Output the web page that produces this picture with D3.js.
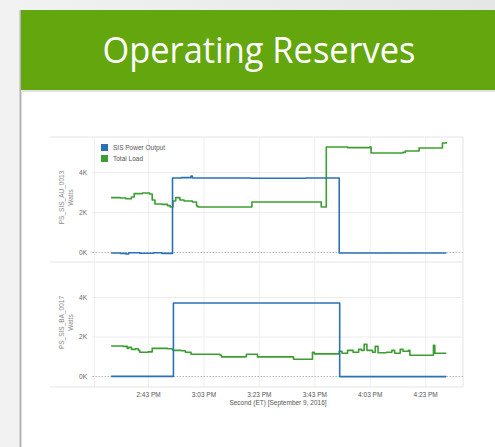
<!DOCTYPE html>
<html>
<head>
<meta charset="utf-8">
<script src="https://cdn.jsdelivr.net/npm/d3@7"></script>
<style>
  body { margin: 0; background: #ececec; }
  svg { display: block; font-family: "Liberation Sans", Arial, sans-serif; }
</style>
</head>
<body>
<script>
// Chart data (values in kW, times on September 9, 2016)
const seriesNames = ["SIS Power Output", "Total Load"];
const tickTimes = ["14:43", "15:03", "15:23", "15:43", "16:03", "16:23"];
const yTicks = [0, 2, 4];
const panelLabels = ["PS_SIS_AU_0013", "PS_SIS_BA_0017"];

const au13Power = [
  ["14:29:40", -0.05], ["14:33:00", -0.07], ["14:35:00", -0.1], ["14:36:00", -0.04],
  ["14:40:00", -0.06], ["14:45:00", -0.04], ["14:48:00", -0.07], ["14:51:50", 3.7],
  ["14:55:00", 3.72], ["14:58:30", 3.8], ["14:59:00", 3.7], ["15:20:00", 3.69],
  ["15:40:00", 3.7], ["15:52:00", -0.05], ["16:30:40", -0.05]
];
const au13Load = [
  ["14:29:40", 2.72], ["14:33:00", 2.7], ["14:35:00", 2.66], ["14:37:00", 2.75],
  ["14:38:00", 2.92], ["14:41:00", 2.95], ["14:43:30", 2.9], ["14:44:30", 2.6],
  ["14:45:30", 2.4], ["14:48:00", 2.38], ["14:50:00", 2.32], ["14:51:00", 2.25],
  ["14:52:00", 2.55], ["14:53:00", 2.72], ["14:54:30", 2.6], ["14:56:00", 2.55],
  ["14:59:00", 2.5], ["15:00:30", 2.3], ["15:01:00", 2.25], ["15:20:00", 2.25],
  ["15:20:30", 2.5], ["15:45:00", 2.5], ["15:45:30", 2.25], ["15:47:00", 2.25],
  ["15:47:20", 5.25], ["15:55:00", 5.22], ["16:03:00", 5.25], ["16:03:30", 4.95],
  ["16:15:00", 4.98], ["16:15:50", 5.05], ["16:20:30", 5.05], ["16:20:50", 5.2],
  ["16:29:00", 5.2], ["16:29:15", 5.45], ["16:30:40", 5.5]
];
const ba17Power = [
  ["14:29:40", -0.02], ["14:52:00", -0.02], ["14:52:10", 3.7], ["15:20:00", 3.7],
  ["15:52:00", 3.7], ["15:52:10", -0.03], ["16:30:40", -0.03]
];
const ba17Load = [
  ["14:29:40", 1.52], ["14:34:00", 1.5], ["14:35:30", 1.4], ["14:36:00", 1.45],
  ["14:37:00", 1.35], ["14:38:30", 1.38], ["14:39:30", 1.3], ["14:40:00", 1.2],
  ["14:43:00", 1.22], ["14:44:30", 1.4], ["14:50:00", 1.38], ["14:52:00", 1.3],
  ["14:55:00", 1.28], ["14:56:30", 1.2], ["14:58:30", 1.1], ["15:09:00", 1.05],
  ["15:09:30", 0.97], ["15:18:00", 0.98], ["15:18:30", 1.1], ["15:22:00", 1.1],
  ["15:22:30", 0.97], ["15:35:00", 0.97], ["15:35:30", 0.85], ["15:42:00", 0.85],
  ["15:42:20", 1.2], ["15:43:00", 1.12], ["15:51:00", 1.12], ["15:52:00", 1.25],
  ["15:53:00", 1.15], ["15:55:00", 1.3], ["15:57:00", 1.2], ["15:59:00", 1.35],
  ["16:00:00", 1.3], ["16:01:00", 1.6], ["16:02:00", 1.3], ["16:04:00", 1.2],
  ["16:05:00", 1.5], ["16:06:00", 1.18], ["16:09:00", 1.2], ["16:11:00", 1.3],
  ["16:12:00", 1.15], ["16:14:00", 1.35], ["16:15:00", 1.25], ["16:17:00", 1.3],
  ["16:17:30", 1.05], ["16:25:30", 1.05], ["16:26:00", 1.55], ["16:26:30", 1.15],
  ["16:30:40", 1.15]
];

const colors = ["#2b71b8", "#3c9e32"];

const W = 495, H = 447;
const parseT = d3.timeParse("%H:%M:%S");
const parseM = d3.timeParse("%H:%M");

const svg = d3.select("body").append("svg").attr("width", W).attr("height", H);

// slide background
const grad = svg.append("defs").append("linearGradient").attr("id", "bg")
  .attr("x1", 0).attr("x2", 1).attr("y1", 0).attr("y2", 0);
grad.append("stop").attr("offset", 0).attr("stop-color", "#f2f2f2");
grad.append("stop").attr("offset", 1).attr("stop-color", "#e6e6e6");
svg.append("rect").attr("width", W).attr("height", H).attr("fill", "url(#bg)");
svg.append("rect").attr("x", 21).attr("y", 10).attr("width", W - 21).attr("height", H - 10)
  .attr("fill", "#fff");
svg.append("rect").attr("x", 19.5).attr("y", 10).attr("width", 2).attr("height", H - 10)
  .attr("fill", "#b4b4b4");
svg.append("rect").attr("x", 21).attr("y", 90).attr("width", W - 21).attr("height", 2)
  .attr("fill", "#e2e2e2");
svg.append("rect").attr("x", 21).attr("y", 10).attr("width", W - 21).attr("height", 80)
  .attr("fill", "#63a60d");
svg.append("text").attr("x", 259).attr("y", 63).attr("text-anchor", "middle")
  .attr("fill", "#fff").style("font-family", "'Open Sans', sans-serif")
  .style("font-size", "37px").attr("textLength", 313).attr("lengthAdjust", "spacingAndGlyphs")
  .text("Operating Reserves");

// chart geometry
const frameL = 50, frameR = 463, plotL = 92;
const x = d3.scaleTime()
  .domain([parseT("14:23:30"), parseT("16:36:40")])
  .range([94, frameR]);

const panels = [
  { label: panelLabels[0], top: 137, bottom: 262, y: d3.scaleLinear().domain([0, 4]).range([252, 172]),
    series: [au13Power, au13Load] },
  { label: panelLabels[1], top: 262, bottom: 387, y: d3.scaleLinear().domain([0, 4]).range([376, 297]),
    series: [ba17Power, ba17Load] }
];

const tickDates = tickTimes.map(parseM);

// frame lines
[137, 262, 387].forEach(yy => {
  svg.append("line").attr("x1", frameL).attr("x2", frameR).attr("y1", yy).attr("y2", yy)
    .attr("stroke", "#e4e4e4").attr("stroke-width", 1);
});
svg.append("line").attr("x1", frameR).attr("x2", frameR).attr("y1", 137).attr("y2", 387)
  .attr("stroke", "#e4e4e4");

panels.forEach(p => {
  const g = svg.append("g");

  // vertical grid
  g.append("g").attr("transform", `translate(0,${p.bottom})`)
    .call(d3.axisBottom(x).tickValues([x.domain()[0], ...tickDates]).tickSize(-(p.bottom - p.top)).tickFormat(""))
    .call(a => a.select(".domain").remove())
    .call(a => a.selectAll("line").attr("stroke", "#efefef"));

  // horizontal grid
  g.append("g").attr("transform", `translate(${frameR},0)`)
    .call(d3.axisLeft(p.y).tickValues(yTicks).tickSize(frameR - plotL).tickFormat(""))
    .call(a => a.select(".domain").remove())
    .call(a => a.selectAll("line").attr("stroke", d => d === 0 ? "#b8b8b8" : "#ececec")
      .attr("stroke-dasharray", d => d === 0 ? "1.5,1.5" : null));

  // y tick labels
  g.append("g").attr("transform", `translate(${plotL - 2},0)`)
    .call(d3.axisLeft(p.y).tickValues(yTicks).tickSize(0).tickFormat(d => d + "K"))
    .call(a => a.select(".domain").remove())
    .call(a => a.selectAll("text").attr("fill", "#666").style("font-size", "6.5px"));

  // y titles
  const cy = (p.top + p.bottom) / 2 - 2;
  g.append("text").attr("transform", `translate(64,${cy}) rotate(-90)`)
    .attr("text-anchor", "middle").attr("fill", "#888").style("font-size", "6.5px").text(p.label);
  g.append("text").attr("transform", `translate(73,${cy}) rotate(-90)`)
    .attr("text-anchor", "middle").attr("fill", "#888").style("font-size", "6.5px").text("Watts");

  // series
  const line = d3.line().curve(d3.curveStepAfter)
    .x(d => x(parseT(d[0]))).y(d => p.y(d[1]));
  [1, 0].forEach(i => {
    g.append("path").datum(p.series[i]).attr("d", line)
      .attr("fill", "none").attr("stroke", colors[i]).attr("stroke-width", 1.6)
      .attr("stroke-linejoin", "round");
  });
});

// x axis
svg.append("g").attr("transform", "translate(0,388)")
  .call(d3.axisBottom(x).tickValues(tickDates).tickSize(0).tickFormat(d3.timeFormat("%-I:%M %p")))
  .call(a => a.select(".domain").remove())
  .call(a => a.selectAll("text").attr("fill", "#555").style("font-size", "6.5px").attr("dy", "0.9em"));
svg.append("text").attr("x", 278).attr("y", 405).attr("text-anchor", "middle")
  .attr("fill", "#555").style("font-size", "6.5px").text("Second (ET) [September 9, 2016]");

// legend
const lg = svg.append("g").attr("transform", "translate(101,144)");
seriesNames.forEach((n, i) => {
  lg.append("rect").attr("x", 0).attr("y", i * 11).attr("width", 7).attr("height", 7).attr("fill", colors[i]);
  lg.append("text").attr("x", 12).attr("y", i * 11 + 6).attr("fill", "#555")
    .style("font-size", "6.5px").text(n);
});
</script>
</body>
</html>
